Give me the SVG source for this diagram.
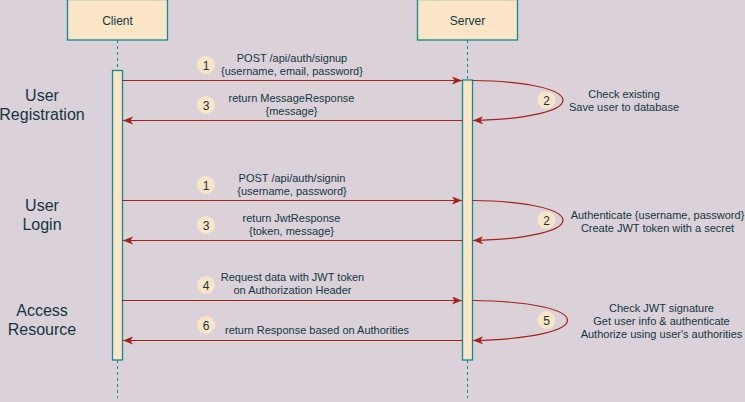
<svg xmlns="http://www.w3.org/2000/svg" width="745" height="402" viewBox="0 0 745 402">
<defs>
<style>
.box{fill:#FAE5C7;stroke:#0F8B8D;stroke-width:1.3}
.life{stroke:#0F8B8D;stroke-width:1;stroke-dasharray:3 3;fill:none}
.msg{stroke:#A8201A;stroke-width:1.2;fill:none;marker-end:url(#arr)}
.t{font-family:"Liberation Sans",Arial,sans-serif;fill:#143642;text-anchor:middle}
.s{font-size:11px}
.h{font-size:16px}
.n{font-size:12px}
.num{fill:#FAE5C7;filter:url(#soft)}
</style>
<marker id="arr" markerUnits="userSpaceOnUse" markerWidth="11" markerHeight="9" refX="10" refY="4" orient="auto">
<path d="M0,0 L10,4 L0,8 L2.5,4 z" fill="#A8201A"/>
</marker>
<filter id="soft" x="-30%" y="-30%" width="160%" height="160%"><feGaussianBlur stdDeviation="0.7"/></filter>
</defs>
<rect width="745" height="402" fill="#DAD2D8"/>

<g id="client">
<rect class="box" x="67.5" y="-0.5" width="100" height="40.5"/>
<text class="t n" x="117.5" y="25">Client</text>
<line class="life" x1="117.5" y1="40" x2="117.5" y2="70"/>
<line class="life" x1="117.5" y1="360" x2="117.5" y2="398"/>
<rect class="box" x="112.5" y="70.5" width="10" height="289.5"/>
</g>

<g id="server">
<rect class="box" x="417.5" y="-0.5" width="100" height="40.5"/>
<text class="t n" x="467.5" y="25">Server</text>
<line class="life" x1="467.5" y1="40" x2="467.5" y2="80"/>
<line class="life" x1="467.5" y1="360" x2="467.5" y2="398"/>
<rect class="box" x="462.5" y="80" width="10" height="280"/>
</g>

<g id="section-labels">
<text class="t h" x="42" y="101">User</text>
<text class="t h" x="42" y="120">Registration</text>
<text class="t h" x="42" y="211">User</text>
<text class="t h" x="42" y="230">Login</text>
<text class="t h" x="42" y="316">Access</text>
<text class="t h" x="42" y="335">Resource</text>
</g>

<g id="connectors">
<line class="msg" x1="122.5" y1="80.5" x2="462" y2="80.5"/>
<path class="msg" d="M472.5,80.5 C593,82 593,118 473,120.5"/>
<line class="msg" x1="462.5" y1="120.5" x2="123" y2="120.5"/>

<line class="msg" x1="122.5" y1="200.5" x2="462" y2="200.5"/>
<path class="msg" d="M472.5,200.5 C593,202 593,238 473,240.5"/>
<line class="msg" x1="462.5" y1="240.5" x2="123" y2="240.5"/>

<line class="msg" x1="122.5" y1="300.5" x2="462" y2="300.5"/>
<path class="msg" d="M472.5,300.5 C599,302 599,338 473,340.5"/>
<line class="msg" x1="462.5" y1="340.5" x2="123" y2="340.5"/>
</g>

<g id="labels">
<text class="t s" x="292" y="62">POST /api/auth/signup</text>
<text class="t s" x="292" y="75">{username, email, password}</text>
<text class="t s" x="291.5" y="102">return MessageResponse</text>
<text class="t s" x="291.5" y="115">{message}</text>
<text class="t s" x="624" y="98">Check existing</text>
<text class="t s" x="624" y="111">Save user to database</text>

<text class="t s" x="292" y="182">POST /api/auth/signin</text>
<text class="t s" x="292" y="195">{username, password}</text>
<text class="t s" x="291.5" y="222">return JwtResponse</text>
<text class="t s" x="291.5" y="235">{token, message}</text>
<text class="t s" x="657.5" y="218.5">Authenticate {username, password}</text>
<text class="t s" x="657.5" y="231.5">Create JWT token with a secret</text>

<text class="t s" x="292.5" y="281">Request data with JWT token</text>
<text class="t s" x="292.5" y="294">on Authorization Header</text>
<text class="t s" x="317" y="334">return Response based on Authorities</text>
<text class="t s" x="661.5" y="311.5">Check JWT signature</text>
<text class="t s" x="661.5" y="324.5">Get user info &amp; authenticate</text>
<text class="t s" x="661.5" y="337.5">Authorize using user's authorities</text>
</g>

<g id="steps">
<circle class="num" cx="206" cy="65" r="9"/><text class="t n" x="206" y="69.5">1</text>
<circle class="num" cx="206" cy="105" r="9"/><text class="t n" x="206" y="109.5">3</text>
<circle class="num" cx="546.5" cy="100" r="9"/><text class="t n" x="546.5" y="104.5">2</text>
<circle class="num" cx="206" cy="185" r="9"/><text class="t n" x="206" y="189.5">1</text>
<circle class="num" cx="206" cy="225" r="9"/><text class="t n" x="206" y="229.5">3</text>
<circle class="num" cx="546.5" cy="220" r="9"/><text class="t n" x="546.5" y="224.5">2</text>
<circle class="num" cx="206" cy="285" r="9"/><text class="t n" x="206" y="289.5">4</text>
<circle class="num" cx="206" cy="325" r="9"/><text class="t n" x="206" y="329.5">6</text>
<circle class="num" cx="546.5" cy="320" r="9"/><text class="t n" x="546.5" y="324.5">5</text>
</g>
</svg>
